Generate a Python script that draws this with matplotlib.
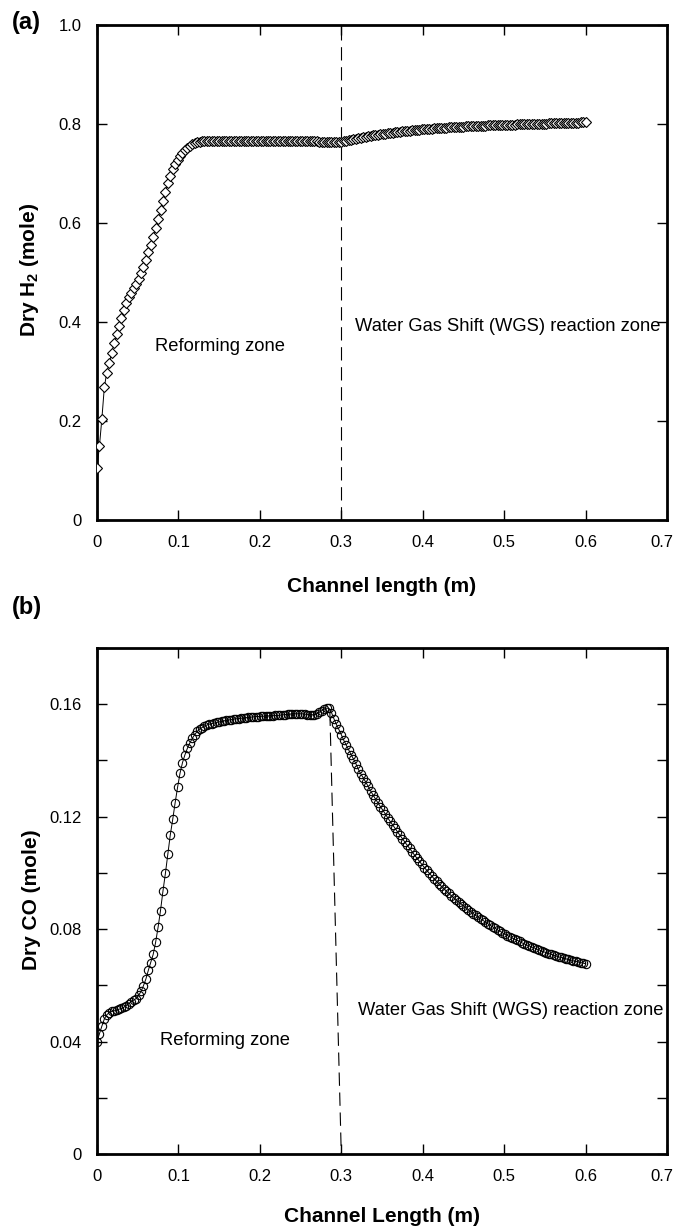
import matplotlib
matplotlib.use("Agg")
import matplotlib.pyplot as plt
import matplotlib.transforms as mtransforms
import numpy as np
from matplotlib import font_manager


def pick_font(names):
    for name in names:
        try:
            font_manager.findfont(name, fallback_to_default=False)
            return name
        except ValueError:
            pass
    return "DejaVu Sans"


NARROW = pick_font(["Liberation Sans Narrow", "Arial Narrow", "Liberation Sans"])
SANS = pick_font(["Liberation Sans", "Arial"])
plt.rcParams["font.family"] = [SANS, "DejaVu Sans"]
plt.rcParams["mathtext.default"] = "regular"

# ---------------------------------------------------------------
# data (x mesh: 0 .. 0.6 m, step 0.003 m)
# ---------------------------------------------------------------
x_mesh = np.linspace(0.0, 0.6, 201)

h2_dry = [
    0.105, 0.150, 0.205, 0.268, 0.298, 0.317, 0.337, 0.358, 0.375, 0.391,
    0.409, 0.424, 0.438, 0.450, 0.459, 0.468, 0.477, 0.487, 0.498, 0.511,
    0.526, 0.541, 0.556, 0.572, 0.590, 0.608, 0.627, 0.645, 0.663, 0.680,
    0.695, 0.709, 0.720, 0.728, 0.735, 0.742, 0.748, 0.752, 0.756, 0.759,
    0.761, 0.763, 0.764, 0.765, 0.765, 0.765, 0.765, 0.765, 0.765, 0.765,
    0.765, 0.765, 0.765, 0.765, 0.765, 0.765, 0.765, 0.765, 0.765, 0.765,
    0.765, 0.765, 0.765, 0.765, 0.765, 0.765, 0.765, 0.765, 0.765, 0.765,
    0.765, 0.765, 0.765, 0.765, 0.765, 0.765, 0.765, 0.765, 0.765, 0.765,
    0.765, 0.765, 0.765, 0.765, 0.765, 0.765, 0.765, 0.765, 0.765, 0.765,
    0.765, 0.764, 0.764, 0.764, 0.764, 0.764, 0.764, 0.764, 0.764, 0.764,
    0.764, 0.765, 0.766, 0.767, 0.768, 0.769, 0.770, 0.771, 0.772, 0.773,
    0.774, 0.775, 0.776, 0.777, 0.777, 0.778, 0.779, 0.780, 0.780, 0.781,
    0.782, 0.782, 0.783, 0.783, 0.784, 0.785, 0.785, 0.786, 0.786, 0.787,
    0.787, 0.788, 0.788, 0.789, 0.789, 0.789, 0.790, 0.790, 0.791, 0.791,
    0.791, 0.792, 0.792, 0.792, 0.793, 0.793, 0.793, 0.793, 0.794, 0.794,
    0.794, 0.795, 0.795, 0.795, 0.795, 0.796, 0.796, 0.796, 0.796, 0.796,
    0.797, 0.797, 0.797, 0.797, 0.797, 0.797, 0.798, 0.798, 0.798, 0.798,
    0.798, 0.798, 0.799, 0.799, 0.799, 0.799, 0.799, 0.799, 0.799, 0.799,
    0.799, 0.800, 0.800, 0.800, 0.800, 0.801, 0.801, 0.801, 0.801, 0.801,
    0.801, 0.802, 0.802, 0.802, 0.802, 0.802, 0.802, 0.802, 0.803, 0.803,
    0.803,
]

co_dry = [
    0.0400, 0.0428, 0.0455, 0.0480, 0.0495, 0.0503, 0.0507, 0.0509, 0.0512, 0.0515,
    0.0518, 0.0522, 0.0528, 0.0535, 0.0542, 0.0547, 0.0553, 0.0564, 0.0578, 0.0598,
    0.0622, 0.0653, 0.0681, 0.0710, 0.0753, 0.0806, 0.0866, 0.0935, 0.0998, 0.1068,
    0.1135, 0.1190, 0.1250, 0.1305, 0.1355, 0.1392, 0.1420, 0.1443, 0.1462, 0.1478,
    0.1492, 0.1503, 0.1511, 0.1517, 0.1522, 0.1526, 0.1529, 0.1531, 0.1533, 0.1535,
    0.1537, 0.1539, 0.1541, 0.1542, 0.1544, 0.1545, 0.1547, 0.1548, 0.1549, 0.1550,
    0.1551, 0.1552, 0.1553, 0.1554, 0.1555, 0.1556, 0.1556, 0.1557, 0.1557, 0.1558,
    0.1558, 0.1559, 0.1559, 0.1560, 0.1560, 0.1561, 0.1562, 0.1563, 0.1564, 0.1565,
    0.1565, 0.1566, 0.1566, 0.1566, 0.1566, 0.1565, 0.1563, 0.1562, 0.1562, 0.1563,
    0.1566, 0.1571, 0.1577, 0.1582, 0.1586, 0.1585, 0.1570, 0.1548, 0.1528, 0.1510,
    0.1492, 0.1472, 0.1455, 0.1438, 0.1421, 0.1405, 0.1388, 0.1368, 0.1352, 0.1338,
    0.1323, 0.1308, 0.1292, 0.1277, 0.1263, 0.1249, 0.1236, 0.1223, 0.1210, 0.1196,
    0.1183, 0.1171, 0.1159, 0.1146, 0.1134, 0.1122, 0.1110, 0.1098, 0.1087, 0.1075,
    0.1063, 0.1052, 0.1041, 0.1030, 0.1019, 0.1009, 0.0999, 0.0989, 0.0979, 0.0970,
    0.0961, 0.0952, 0.0944, 0.0935, 0.0927, 0.0919, 0.0912, 0.0904, 0.0897, 0.0890,
    0.0883, 0.0876, 0.0869, 0.0862, 0.0855, 0.0849, 0.0843, 0.0837, 0.0831, 0.0825,
    0.0819, 0.0813, 0.0808, 0.0803, 0.0797, 0.0792, 0.0787, 0.0782, 0.0777, 0.0773,
    0.0768, 0.0764, 0.0760, 0.0756, 0.0751, 0.0747, 0.0743, 0.0740, 0.0736, 0.0733,
    0.0729, 0.0726, 0.0722, 0.0719, 0.0716, 0.0713, 0.0710, 0.0707, 0.0704, 0.0701,
    0.0699, 0.0697, 0.0694, 0.0692, 0.0690, 0.0687, 0.0685, 0.0683, 0.0681, 0.0679,
    0.0677,
]

# zone boundaries (dashed lines)
h2_split_x = [0.3, 0.3]
h2_split_y = [0.0, 1.0]
co_split_x = [0.286, 0.300]
co_split_y = [0.157, 0.0]

x_ticks = [0, 0.1, 0.2, 0.3, 0.4, 0.5, 0.6, 0.7]
x_ticklabels = ["0", "0.1", "0.2", "0.3", "0.4", "0.5", "0.6", "0.7"]
h2_ticks = [0, 0.2, 0.4, 0.6, 0.8, 1.0]
h2_ticklabels = ["0", "0.2", "0.4", "0.6", "0.8", "1.0"]
co_ticks = [0, 0.02, 0.04, 0.06, 0.08, 0.10, 0.12, 0.14, 0.16, 0.18]
co_ticklabels = ["0", "", "0.04", "", "0.08", "", "0.12", "", "0.16", ""]

# ---------------------------------------------------------------
# figure
# ---------------------------------------------------------------
fig = plt.figure(figsize=(6.75, 12.3), dpi=100)
ax_a = fig.add_axes([0.1437, 0.5772, 0.8444, 0.4025])
ax_b = fig.add_axes([0.1437, 0.0618, 0.8444, 0.4114])

narrow_ok = NARROW != SANS
TICK_FS = 13.5 if narrow_ok else 12
NOTE_FS = 14 if narrow_ok else 13.2
LABEL_FS = 15


def style_axes(ax):
    for sp in ax.spines.values():
        sp.set_linewidth(2.0)
    ax.tick_params(direction="in", top=True, right=True, length=7, width=1.0,
                   pad=11, labelsize=TICK_FS)
    for lab in ax.get_xticklabels() + ax.get_yticklabels():
        lab.set_fontfamily([NARROW, "DejaVu Sans"])
    # keep the last x label ("0.7") inside the canvas
    last = ax.get_xticklabels()[-1]
    last.set_transform(last.get_transform() + mtransforms.ScaledTranslation(
        -5 / 100, 0, fig.dpi_scale_trans))


# (a) dry H2
ax = ax_a
ax.plot(x_mesh, h2_dry, "-", color="black", lw=0.7, marker="D", ms=5.5,
        mfc="white", mec="black", mew=0.8, zorder=3)
ax.plot(h2_split_x, h2_split_y, color="black", lw=0.8, dashes=(12, 6))
ax.set_xlim(0, 0.7)
ax.set_ylim(0, 1.0)
ax.set_xticks(x_ticks, x_ticklabels)
ax.set_yticks(h2_ticks, h2_ticklabels)
style_axes(ax)
ax.set_xlabel("Channel length (m)", fontsize=LABEL_FS, fontweight="bold")
ax.set_ylabel("Dry H$_2$ (mole)", fontsize=LABEL_FS, fontweight="bold")
ax.xaxis.set_label_coords(0.5, -0.115)
ax.yaxis.set_label_coords(-0.099, 0.505)
ax.text(0.071, 0.35, "Reforming zone", fontsize=NOTE_FS,
        family=[NARROW, "DejaVu Sans"], va="center")
ax.text(0.317, 0.39, "Water Gas Shift (WGS) reaction zone", fontsize=NOTE_FS,
        family=[NARROW, "DejaVu Sans"], va="center")

# (b) dry CO
ax = ax_b
ax.plot(x_mesh, co_dry, "-", color="black", lw=0.7, marker="o", ms=6,
        mfc="none", mec="black", mew=0.8, zorder=3)
ax.plot(co_split_x, co_split_y, color="black", lw=0.8, dashes=(12, 6))
ax.set_xlim(0, 0.7)
ax.set_ylim(0, 0.18)
ax.set_xticks(x_ticks, x_ticklabels)
ax.set_yticks(co_ticks, co_ticklabels)
style_axes(ax)
ax.set_xlabel("Channel Length (m)", fontsize=LABEL_FS, fontweight="bold")
ax.set_ylabel("Dry CO (mole)", fontsize=LABEL_FS, fontweight="bold")
ax.xaxis.set_label_coords(0.5, -0.105)
ax.yaxis.set_label_coords(-0.099, 0.502)
ax.text(0.077, 0.0404, "Reforming zone", fontsize=NOTE_FS,
        family=[NARROW, "DejaVu Sans"], va="center")
ax.text(0.321, 0.051, "Water Gas Shift (WGS) reaction zone", fontsize=NOTE_FS,
        family=[NARROW, "DejaVu Sans"], va="center")

fig.text(0.018, 0.982, "(a)", fontsize=17, fontweight="bold", va="center")
fig.text(0.018, 0.5065, "(b)", fontsize=17, fontweight="bold", va="center")

fig.savefig("out.png", dpi=100)
